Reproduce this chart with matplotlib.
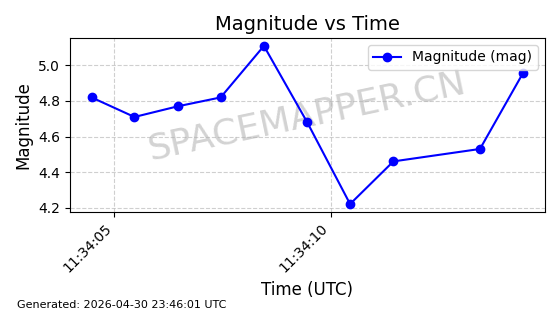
import matplotlib
matplotlib.use('Agg')
import matplotlib.pyplot as plt
import matplotlib.dates as mdates
import pandas as pd

times = ['11:34:04.48', '11:34:05.47', '11:34:06.47', '11:34:07.46', '11:34:08.46',
         '11:34:09.46', '11:34:10.45', '11:34:11.45', '11:34:13.45', '11:34:14.45']
mags = [4.82, 4.71, 4.77, 4.82, 5.11, 4.68, 4.22, 4.46, 4.53, 4.96]

t = pd.to_datetime(['2026-04-30 ' + s for s in times])

fig, ax = plt.subplots(figsize=(5.6, 3.14), dpi=100)
ax.plot(t, mags, 'o-', color='blue', label='Magnitude (mag)', zorder=3)
ax.set_title('Magnitude vs Time', fontsize=14)
ax.set_xlabel('Time (UTC)', fontsize=12)
ax.set_ylabel('Magnitude', fontsize=12)
ax.grid(True, linestyle='--', alpha=0.6)
ax.legend(loc='upper right')

ax.xaxis.set_major_locator(mdates.SecondLocator(bysecond=range(0, 60, 5)))
ax.xaxis.set_major_formatter(mdates.DateFormatter('%H:%M:%S'))
plt.setp(ax.get_xticklabels(), rotation=45, ha='right')

ax.text(0.5, 0.55, 'SPACEMAPPER.CN', transform=ax.transAxes, fontsize=26,
        color='gray', alpha=0.35, rotation=12, ha='center', va='center', zorder=1)

fig.text(0.03, 0.02, 'Generated: 2026-04-30 23:46:01 UTC', fontsize=8)

plt.subplots_adjust(left=0.125, right=0.973, top=0.879, bottom=0.325)
plt.savefig('out.png')
